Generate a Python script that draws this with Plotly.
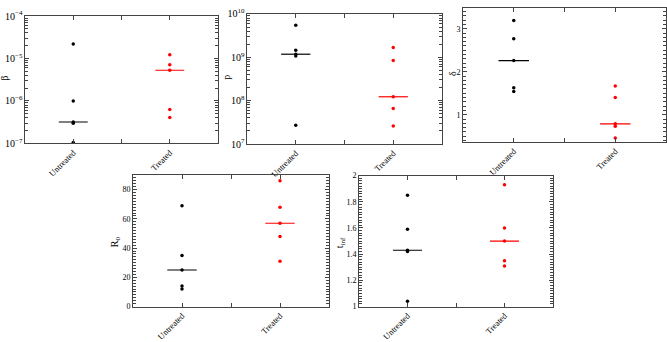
import numpy as np
import plotly.graph_objects as go

groups = ["Untreated", "Treated"]
colors = ["black", "red"]

beta_untreated = [2.2e-5, 1.0e-6, 3.2e-7, 3.0e-7, 1.05e-7]
beta_treated = [1.23e-5, 7.1e-6, 5.3e-6, 6.3e-7, 4.1e-7]
p_untreated = [5.5e9, 1.45e9, 1.18e9, 1.08e9, 2.7e7]
p_treated = [1.69e9, 8.5e8, 1.23e8, 6.6e7, 2.6e7]
delta_untreated = [3.19, 2.77, 2.26, 1.63, 1.54]
delta_treated = [1.67, 1.40, 0.79, 0.73, 0.46]
r0_untreated = [69, 35, 25, 14, 12]
r0_treated = [86, 68, 57, 48, 31]
tinf_untreated = [1.85, 1.59, 1.43, 1.42, 1.04]
tinf_treated = [1.93, 1.60, 1.50, 1.35, 1.31]

W, H = 667, 342
panels = [
    dict(data=[beta_untreated, beta_treated], title="β", log=True, range=[-7, -4],
         xd=[25/W, 218/W], yd=[1-142.7/H, 1-9.5/H], tpos=(5, 75)),
    dict(data=[p_untreated, p_treated], title="p", log=True, range=[7, 10],
         xd=[247/W, 442/W], yd=[1-143.3/H, 1-7.3/H], tpos=(227, 74)),
    dict(data=[delta_untreated, delta_treated], title="δ", log=False, range=[0.364, 3.49],
         dtick=1, minor=0.1, xd=[463/W, 666/W], yd=[1-141.3/H, 1-0.7/H], tpos=(453, 70)),
    dict(data=[r0_untreated, r0_treated], title="R<sub>0</sub>", log=False, range=[0, 90],
         dtick=20, minor=2, xd=[133/W, 329/W], yd=[1-313.3/H, 1-175.7/H], tpos=(115, 246)),
    dict(data=[tinf_untreated, tinf_treated], title="t<sub>inf</sub>", log=False, range=[1, 2],
         dtick=0.2, minor=0.02, xd=[359/W, 553/W], yd=[1-313.3/H, 1-176.3/H], tpos=(340, 247)),
]

yfont = dict(family="Liberation Serif", size=8, color="black")
xfont = dict(family="Liberation Serif", size=8.5, color="black")
fig = go.Figure()
half = 0.15
for i, pn in enumerate(panels):
    k = "" if i == 0 else str(i + 1)
    xa, ya = "x" + k, "y" + k
    for g, (vals, col) in enumerate(zip(pn["data"], colors)):
        xpos = g + 1
        fig.add_trace(go.Scatter(x=[xpos] * len(vals), y=vals, mode="markers",
                                 marker=dict(color=col, size=3.5, symbol="circle"),
                                 xaxis=xa, yaxis=ya, showlegend=False))
        med = float(np.median(vals))
        fig.add_trace(go.Scatter(x=[xpos - half, xpos + half], y=[med, med], mode="lines",
                                 line=dict(color=col, width=1.2),
                                 xaxis=xa, yaxis=ya, showlegend=False))
    xkw = dict(domain=pn["xd"], range=[0.5, 2.5], tickvals=[1, 1.5, 2],
               ticktext=["Untreated", "", "Treated"], tickangle=-45,
               ticks="inside", ticklen=4, tickcolor="#444", mirror="allticks",
               showline=True, linecolor="#444", linewidth=1, showgrid=False,
               zeroline=False, tickfont=xfont, anchor=ya)
    ykw = dict(domain=pn["yd"], ticks="inside", ticklen=4, tickcolor="#444",
               mirror="allticks", showline=True, linecolor="#444", linewidth=1,
               showgrid=False, zeroline=False, tickfont=yfont, anchor=xa)
    if pn["log"]:
        ykw.update(type="log", range=pn["range"], dtick=1, exponentformat="power",
                   minor=dict(ticks="inside", ticklen=3, tickcolor="#444", showgrid=False))
    else:
        ykw.update(range=pn["range"], dtick=pn["dtick"],
                   minor=dict(ticks="inside", ticklen=3, dtick=pn["minor"], tickcolor="#444", showgrid=False))
    fig.layout["xaxis" + k] = xkw
    fig.layout["yaxis" + k] = ykw
    tx, ty = pn["tpos"]
    fig.add_annotation(text=pn["title"], x=tx / W, y=1 - ty / H, xref="paper", yref="paper",
                       textangle=-90, showarrow=False, xanchor="center", yanchor="middle",
                       font=dict(family="Liberation Serif", size=10, color="black"))

fig.update_layout(width=W, height=H, margin=dict(l=0, r=0, t=0, b=0),
                  plot_bgcolor="white", paper_bgcolor="white", font=yfont)
fig.write_html("out.html")
